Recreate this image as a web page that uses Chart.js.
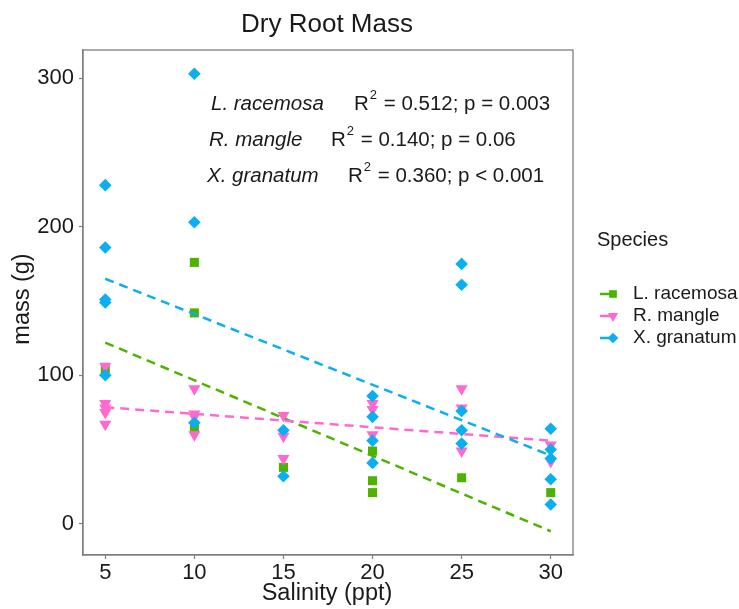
<!DOCTYPE html>
<html>
<head>
<meta charset="utf-8">
<title>Dry Root Mass</title>
<script src="https://cdn.jsdelivr.net/npm/chart.js@4"></script>
<style>
  html, body { margin: 0; padding: 0; background: #fff; }
  #chart { display: block; }
</style>
</head>
<body>
<canvas id="chart" width="739" height="609"></canvas>
<script>
(function () {
  "use strict";

  // data: salinity (ppt) and dry root mass (g)
  const LR_SAL  = [5, 10, 10, 10, 15, 20, 20, 20, 25, 30];
  const LR_MASS = [104, 176, 142, 65, 38, 49, 29, 21, 31, 21];

  const RM_SAL  = [5, 5, 5, 5, 5, 10, 10, 10, 10, 15, 15, 15, 20, 20, 20, 25, 25, 25, 30, 30];
  const RM_MASS = [106, 81, 78, 75, 67, 91, 74, 72, 60, 73, 59, 44, 81, 77, 60, 91, 78, 49, 53, 42];

  const XG_SAL  = [5, 5, 5, 5, 5, 10, 10, 10, 15, 15, 20, 20, 20, 20, 25, 25, 25, 25, 25, 30, 30, 30, 30, 30];
  const XG_MASS = [228, 186, 151, 149, 100, 303, 203, 68, 63, 32, 86, 72, 56, 41, 175, 161, 76, 63, 54, 64, 50, 44, 30, 13];

  // fitted regression lines (ends at 5 and 30 ppt)
  const FIT_SAL = [5, 30];
  const LR_FIT  = [122, -5];
  const RM_FIT  = [78.5, 56];
  const XG_FIT  = [165, 46];

  const SPECIES = ["L. racemosa", "R. mangle", "X. granatum"];
  const STATS = ["R\u00b2 = 0.512; p = 0.003", "R\u00b2 = 0.140; p = 0.06", "R\u00b2 = 0.360; p < 0.001"];

  const X_TICKS = [5, 10, 15, 20, 25, 30];
  const Y_TICKS = [0, 100, 200, 300];

  const GREEN = "#4db300", PINK = "#ff69cf", BLUE = "#0aaff2";
  const FONT = "'Liberation Sans', Arial, sans-serif";
  const TEXT = "#1a1a1a";
  const AXIS = "#7f7f7f";

  const pts = (xs, ys) => xs.map((x, i) => ({ x: x, y: ys[i] }));

  const STYLE = [
    { color: GREEN, style: "rect", radius: 6.4, rot: 0 },
    { color: PINK, style: "triangle", radius: 7, rot: 180 },
    { color: BLUE, style: "rectRot", radius: 6.3, rot: 0 },
  ];

  function pointSet(label, data, st, order) {
    return {
      label: label, data: data, order: order, showLine: false,
      pointStyle: st.style, pointRadius: st.radius, pointRotation: st.rot,
      pointBackgroundColor: st.color, pointBorderColor: st.color, pointBorderWidth: 0,
      pointHoverRadius: st.radius,
    };
  }

  function fitSet(data, color, order) {
    return {
      data: data, order: order, showLine: true, pointRadius: 0,
      borderColor: color, borderWidth: 2.5, borderDash: [9, 6], fill: false,
    };
  }

  // titles, annotation, panel border and legend
  const decor = {
    id: "decor",
    afterDraw(chart) {
      const ctx = chart.ctx, a = chart.chartArea;
      ctx.save();
      ctx.strokeStyle = AXIS;
      ctx.lineWidth = 1.3;
      ctx.strokeRect(a.left, a.top, a.right - a.left, a.bottom - a.top);

      ctx.fillStyle = TEXT;
      ctx.textBaseline = "middle";
      ctx.textAlign = "center";
      ctx.font = "26px " + FONT;
      ctx.fillText("Dry Root Mass", 327, 25);

      ctx.font = "23.5px " + FONT;
      ctx.fillText("Salinity (ppt)", 327, 594);
      ctx.save();
      ctx.translate(23, 299);
      ctx.rotate(-Math.PI / 2);
      ctx.fillText("mass (g)", 0, 0);
      ctx.restore();

      // in-panel annotation
      ctx.textAlign = "left";
      const rows = [
        { nx: 211, sx: 354, y: 104 },
        { nx: 209, sx: 331, y: 140 },
        { nx: 207, sx: 348, y: 176 },
      ];
      rows.forEach((r, i) => {
        ctx.font = "italic 20.5px " + FONT;
        ctx.fillText(SPECIES[i], r.nx, r.y);
        ctx.font = "20.5px " + FONT;
        const s = STATS[i];
        ctx.fillText("R", r.sx, r.y);
        const rw = ctx.measureText("R").width;
        ctx.font = "13px " + FONT;
        ctx.fillText("2", r.sx + rw + 1, r.y - 9);
        const sw = ctx.measureText("2").width;
        ctx.font = "20.5px " + FONT;
        ctx.fillText(s.slice(2), r.sx + rw + sw + 2, r.y);
      });

      // legend
      ctx.font = "20px " + FONT;
      ctx.fillText("Species", 597, 240);
      ctx.font = "19px " + FONT;
      const ly = [294, 316, 338];
      SPECIES.forEach((name, i) => {
        const st = STYLE[i];
        ctx.strokeStyle = st.color;
        ctx.lineWidth = 2.5;
        ctx.setLineDash([]);
        ctx.beginPath();
        ctx.moveTo(600, ly[i]);
        ctx.lineTo(613, ly[i]);
        ctx.stroke();
        ctx.fillStyle = st.color;
        Chart.helpers.drawPoint(ctx, {
          pointStyle: st.style, radius: st.radius * 0.85, rotation: st.rot, borderWidth: 0,
        }, 613, ly[i]);
        ctx.fillStyle = TEXT;
        ctx.fillText(name, 633, ly[i]);
      });
      ctx.restore();
    },
  };

  const ctx = document.getElementById("chart").getContext("2d");
  new Chart(ctx, {
    type: "scatter",
    data: {
      datasets: [
        pointSet(SPECIES[0], pts(LR_SAL, LR_MASS), STYLE[0], 6),
        pointSet(SPECIES[1], pts(RM_SAL, RM_MASS), STYLE[1], 5),
        pointSet(SPECIES[2], pts(XG_SAL, XG_MASS), STYLE[2], 4),
        fitSet(pts(FIT_SAL, LR_FIT), GREEN, 3),
        fitSet(pts(FIT_SAL, RM_FIT), PINK, 2),
        fitSet(pts(FIT_SAL, XG_FIT), BLUE, 1),
      ],
    },
    options: {
      responsive: false, animation: false, devicePixelRatio: 1,
      layout: { padding: { left: 0, top: 50, right: 166, bottom: 0 } },
      plugins: { legend: { display: false }, tooltip: { enabled: false }, title: { display: false } },
      scales: {
        x: {
          type: "linear", min: 3.75, max: 31.25,
          afterBuildTicks: (s) => { s.ticks = X_TICKS.map((v) => ({ value: v })); },
          afterFit: (s) => { s.height = 54; },
          grid: { drawOnChartArea: false, color: AXIS, tickLength: 4, tickWidth: 1.2 },
          border: { display: true, color: AXIS, width: 1.3 },
          ticks: { color: TEXT, font: { family: FONT, size: 22 }, padding: 1, maxRotation: 0 },
        },
        y: {
          type: "linear", min: -21, max: 319,
          afterBuildTicks: (s) => { s.ticks = Y_TICKS.map((v) => ({ value: v })); },
          afterFit: (s) => { s.width = 83; },
          grid: { drawOnChartArea: false, color: AXIS, tickLength: 4, tickWidth: 1.2 },
          border: { display: true, color: AXIS, width: 1.3 },
          ticks: { color: TEXT, font: { family: FONT, size: 22 }, padding: 5 },
        },
      },
    },
    plugins: [decor],
  });
})();
</script>
</body>
</html>
